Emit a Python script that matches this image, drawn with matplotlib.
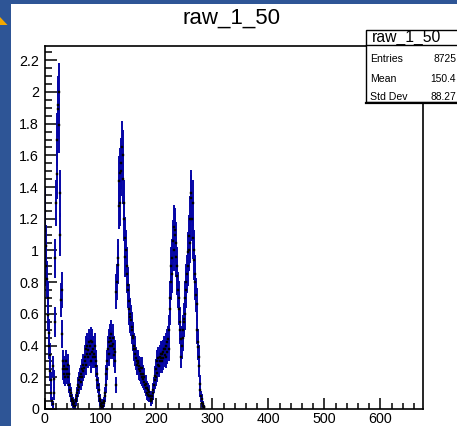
import numpy as np
import matplotlib.pyplot as plt
from matplotlib.patches import Rectangle, Polygon
from matplotlib.ticker import MultipleLocator

plt.rcParams['font.family'] = ['Liberation Sans', 'DejaVu Sans']

# histogram contents, 1-unit bins starting at 0
bin_lo = 0
contents = [
    1.25, 1.12, 1.03, 0.9, 0.82, 0.7, 0.59, 0.48, 0.4, 0.34,
    0.24, 0.18, 0.1, 0.05, 0.03, 0.27, 0.19, 0.1, 0.55, 0.95,
    1.3, 1.48, 1.7, 1.92, 1.89, 2.0, 1.79, 1.36, 1.1, 0.69,
    0.75, 0.47, 0.3, 0.25, 0.22, 0.27, 0.2, 0.25, 0.3, 0.22,
    0.25, 0.28, 0.2, 0.15, 0.22, 0.12, 0.1, 0.08, 0.06, 0.05,
    0.05, 0.03, 0.02, 0.04, 0.02, 0.06, 0.05, 0.1, 0.08, 0.12,
    0.15, 0.14, 0.18, 0.2, 0.17, 0.22, 0.25, 0.2, 0.24, 0.28,
    0.26, 0.3, 0.33, 0.28, 0.38, 0.35, 0.4, 0.33, 0.37, 0.42,
    0.35, 0.4, 0.3, 0.43, 0.36, 0.42, 0.33, 0.38, 0.35, 0.4,
    0.33, 0.27, 0.3, 0.22, 0.18, 0.15, 0.12, 0.08, 0.06, 0.05,
    0.03, 0.02, 0.04, 0.01, 0.02, 0.05, 0.04, 0.08, 0.1, 0.15,
    0.22, 0.25, 0.3, 0.38, 0.35, 0.42, 0.4, 0.45, 0.47, 0.43,
    0.4, 0.45, 0.41, 0.38, 0.34, 0.3, 0.36, 0.15, 0.74, 0.8,
    0.91, 0.95, 1.28, 1.44, 1.49, 1.3, 1.5, 1.55, 1.65, 1.6,
    1.45, 1.3, 1.2, 1.08, 0.96, 1.0, 0.85, 0.9, 0.78, 0.75,
    0.68, 0.63, 0.6, 0.58, 0.56, 0.5, 0.52, 0.46, 0.45, 0.4,
    0.38, 0.35, 0.38, 0.32, 0.3, 0.28, 0.3, 0.29, 0.25, 0.27,
    0.24, 0.26, 0.22, 0.26, 0.2, 0.22, 0.19, 0.17, 0.2, 0.15,
    0.13, 0.16, 0.13, 0.1, 0.12, 0.09, 0.11, 0.08, 0.08, 0.06,
    0.05, 0.06, 0.08, 0.12, 0.1, 0.15, 0.18, 0.21, 0.2, 0.25,
    0.23, 0.3, 0.28, 0.32, 0.27, 0.33, 0.3, 0.35, 0.32, 0.35,
    0.3, 0.36, 0.32, 0.38, 0.34, 0.38, 0.33, 0.4, 0.36, 0.42,
    0.44, 0.38, 0.5, 0.63, 0.7, 0.8, 0.9, 0.95, 0.85, 1.06,
    1.0, 1.15, 1.1, 1.13, 1.05, 0.96, 0.9, 0.84, 0.75, 0.7,
    0.63, 0.55, 0.5, 0.44, 0.33, 0.4, 0.45, 0.5, 0.57, 0.55,
    0.6, 0.7, 0.75, 0.8, 0.85, 0.9, 0.99, 1.0, 1.09, 1.05,
    1.2, 1.33, 1.36, 1.2, 1.3, 1.08, 1.0, 0.94, 0.85, 0.8,
    0.72, 0.66, 0.5, 0.42, 0.39, 0.33, 0.27, 0.16, 0.12, 0.08,
    0.06, 0.04, 0.03, 0.02, 0.01, 0.01, 0.0, 0.0, 0.0, 0.0,
]
entry_weight = 0.0166  # per-entry weight of the scaled histogram

stats_labels = ['Entries', 'Mean', 'Std Dev']
stats_values = ['8725', '150.4', '88.27']
hist_name = 'raw_1_50'

y = np.array(contents)
x = bin_lo + np.arange(len(y)) + 0.5
err = np.sqrt(y * entry_weight)  # poisson error of weighted bins
keep = y > 0

fig = plt.figure(figsize=(4.57, 4.26), dpi=100, facecolor='white')

# screen border around the canvas
blue = '#2e5596'
fig.patches.append(Rectangle((0, 0), 11 / 457, 1, transform=fig.transFigure,
                             facecolor=blue, edgecolor='none', zorder=0))
fig.patches.append(Rectangle((0, 1 - 4 / 426), 1, 4 / 426, transform=fig.transFigure,
                             facecolor=blue, edgecolor='none', zorder=0))
fig.patches.append(Polygon([(0, 1 - 17 / 426), (7.5 / 457, 1 - 25 / 426), (0, 1 - 25 / 426)],
                           closed=True, transform=fig.transFigure,
                           facecolor='#f5a800', edgecolor='none', zorder=0))

ax = fig.add_axes([44.5 / 457, 17 / 426, (423 - 44.5) / 457, (409 - 46) / 426])
ax.errorbar(x[keep], y[keep], yerr=err[keep], xerr=0.5, fmt='s', ms=1.5,
            mfc='black', mec='black', mew=0.3, ecolor='#0606a6', elinewidth=1.4, capsize=0)

ax.set_xlim(0, 676)
ax.set_ylim(0, 2.29)
ax.xaxis.set_major_locator(MultipleLocator(100))
ax.xaxis.set_minor_locator(MultipleLocator(20))
ax.yaxis.set_minor_locator(MultipleLocator(0.05))
ax.set_yticks(np.arange(0, 2.21, 0.2))
ax.set_yticklabels(['0'] + ['%g' % v for v in np.arange(0.2, 2.21, 0.2)])
ax.tick_params(which='both', direction='in', width=1.1, labelsize=10.3,
               top=False, right=False)
ax.tick_params(axis='y', which='major', length=8.4, pad=4)
ax.tick_params(axis='y', which='minor', length=4.8)
ax.tick_params(axis='x', which='major', length=7.7, pad=2)
ax.tick_params(axis='x', which='minor', length=4.3)
for s in ax.spines.values():
    s.set_linewidth(1.2)

fig.text(232 / 457, 1 - 24 / 426, hist_name, ha='center', va='baseline', fontsize=16)

# stats box
bx0, by0, by1 = 366 / 457, 1 - 102 / 426, 1 - 30 / 426
fig.patches.append(Rectangle((bx0, by0), 1.02 - bx0, by1 - by0, transform=fig.transFigure,
                             facecolor='white', edgecolor='black', lw=1.0, zorder=5))
fig.lines.append(plt.Line2D([bx0, 1.0], [by0 - 0.6 / 426] * 2, transform=fig.transFigure,
                            color='black', lw=1.6, zorder=6))
fig.lines.append(plt.Line2D([bx0, 1.0], [1 - 44.5 / 426] * 2, transform=fig.transFigure,
                            color='black', lw=1.0, zorder=6))
fig.text(406.5 / 457, 1 - 41.5 / 426, hist_name, ha='center', va='baseline', fontsize=11.3, zorder=7)
rows_y = [59.5, 78.5, 96.5]
for lab, val, ry in zip(stats_labels, stats_values, rows_y):
    fig.text(370 / 457, 1 - ry / 426, lab, ha='left', va='center', fontsize=7.6, zorder=7)
    fig.text(456 / 457, 1 - ry / 426, val, ha='right', va='center', fontsize=7.4, zorder=7)

fig.savefig('out.png', dpi=100, facecolor='white')
